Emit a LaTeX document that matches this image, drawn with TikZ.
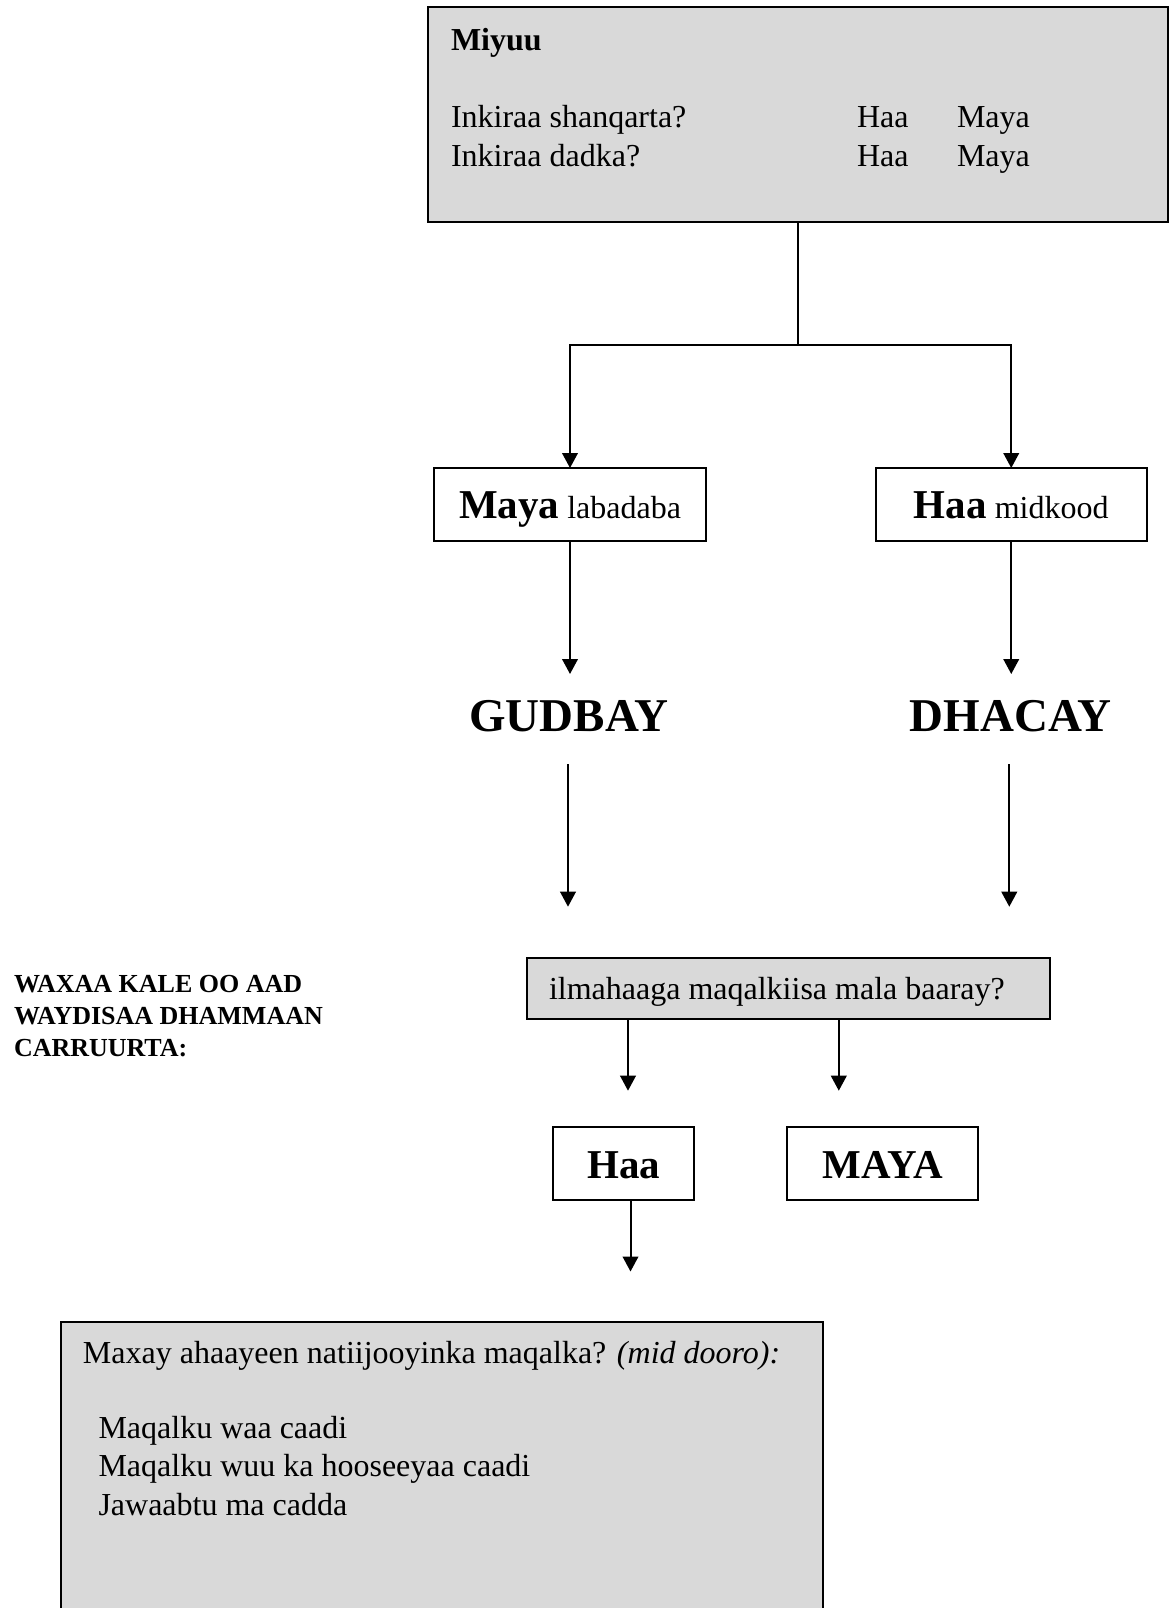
\documentclass[tikz,border=0pt]{standalone}
\usepackage{fontspec}
\setmainfont{Liberation Serif}
\usetikzlibrary{arrows.meta}
\definecolor{boxgray}{RGB}{217,217,217}
\tikzset{
  graybox/.style={draw=black, fill=boxgray, line width=1pt, inner sep=0pt, outer sep=0pt},
  whitebox/.style={draw=black, fill=white, line width=1pt, inner sep=0pt, outer sep=0pt},
  txt/.style={inner sep=0pt, outer sep=0pt, font=\fontsize{16}{19}\selectfont},
  boldtxt/.style={inner sep=0pt, outer sep=0pt, font=\fontsize{16}{19}\selectfont\bfseries},
  bigword/.style={inner sep=0pt, outer sep=0pt, font=\fontsize{23.5}{28}\selectfont\bfseries},
  answer/.style={inner sep=0pt, outer sep=0pt, font=\fontsize{20.5}{24}\selectfont\bfseries},
  sidenote/.style={inner sep=0pt, outer sep=0pt, font=\fontsize{13}{16}\selectfont\bfseries},
  link/.style={line width=1pt},
  arr/.style={line width=1pt, -{Triangle[width=7.8pt,length=7.5pt]}}
}
\begin{document}
\begin{tikzpicture}[x=0.5pt, y=-0.5pt]
\useasboundingbox (0,0) rectangle (1173,1608);
\clip (0,0) rectangle (1173,1608);

% question box at the top
\node[graybox, minimum width=370pt, minimum height=107.5pt] (top) at (798,114.5) {};
\node[boldtxt, anchor=base west] (miyuu) at (451,50) {Miyuu};
\node[txt, anchor=base west] (q1) at (451,127) {Inkiraa shanqarta?};
\node[txt, anchor=base west] (q2) at (451,166) {Inkiraa dadka?};
\node[txt, anchor=base west] (q1yes) at (857,127) {Haa};
\node[txt, anchor=base west] (q1no) at (957,127) {Maya};
\node[txt, anchor=base west] (q2yes) at (857,166) {Haa};
\node[txt, anchor=base west] (q2no) at (957,166) {Maya};

% branch point
\coordinate (split) at (798,345);

% answer boxes
\node[whitebox, minimum width=136pt, minimum height=36.25pt] (nobox) at (570,504.25) {};
\node[txt, anchor=base] (notext) at (570,518.3)
  {{\fontsize{20.5}{24}\selectfont\bfseries Maya} labadaba};
\node[whitebox, minimum width=135.75pt, minimum height=36.25pt] (yesbox) at (1011.25,504.25) {};
\node[txt, anchor=base] (yestext) at (1011.25,518.3)
  {{\fontsize{20.5}{24}\selectfont\bfseries Haa} midkood};

\draw[link] (top.south) -- (split);
\draw[arr] (split) -| (nobox.north);
\draw[arr] (split) -| (yesbox.north);

% outcomes
\coordinate (passtip) at (570,674);
\coordinate (failtip) at (1011.25,674);
\node[bigword, anchor=base] (pass) at (569,731.7) {GUDBAY};
\node[bigword, anchor=base] (fail) at (1010.7,731.7) {DHACAY};
\draw[arr] (nobox.south) -- (passtip);
\draw[arr] (yesbox.south) -- (failtip);

\coordinate (passfrom) at (568,764);
\coordinate (passto) at (568,906.7);
\coordinate (failfrom) at (1009.3,764);
\coordinate (failto) at (1009.3,906.7);
\draw[arr] (passfrom) -- (passto);
\draw[arr] (failfrom) -- (failto);

% note on the left
\node[sidenote, anchor=base west] (note1) at (14,992.7) {WAXAA KALE OO AAD};
\node[sidenote, anchor=base west] (note2) at (14,1024.7) {WAYDISAA DHAMMAAN};
\node[sidenote, anchor=base west] (note3) at (14,1056.7) {CARRUURTA:};

% hearing question
\node[graybox, minimum width=261.65pt, minimum height=30.35pt] (hear) at (788.65,988.65) {};
\node[txt, anchor=base west] (heartext) at (549,999) {ilmahaaga maqalkiisa mala baaray?};

\coordinate (heartipA) at (628,1090.7);
\coordinate (heartipB) at (838.8,1090.7);
\draw[arr] (hear.south -| heartipA) -- (heartipA);
\draw[arr] (hear.south -| heartipB) -- (heartipB);

\node[whitebox, minimum width=70.6pt, minimum height=36.65pt] (hyes) at (623.6,1163.35) {};
\node[answer, anchor=base] (hyestext) at (623.6,1178) {Haa};
\node[whitebox, minimum width=95.4pt, minimum height=36.65pt] (hno) at (882.6,1163.35) {};
\node[answer, anchor=base] (hnotext) at (882.6,1178) {MAYA};

\coordinate (resulttip) at (630.5,1271.5);
\draw[arr] (hyes.south -| resulttip) -- (resulttip);

% result box at the bottom
\node[graybox, minimum width=380.9pt, minimum height=150pt, anchor=north west] (result) at (61.2,1321.7) {};
\node[txt, anchor=base west] (rq) at (83,1363.3)
  {Maxay ahaayeen natiijooyinka maqalka? \textit{(mid dooro):}};
\node[txt, anchor=base west] (r1) at (98.5,1438.3) {Maqalku waa caadi};
\node[txt, anchor=base west] (r2) at (98.5,1476.7) {Maqalku wuu ka hooseeyaa caadi};
\node[txt, anchor=base west] (r3) at (98.5,1515) {Jawaabtu ma cadda};
\end{tikzpicture}
\end{document}
